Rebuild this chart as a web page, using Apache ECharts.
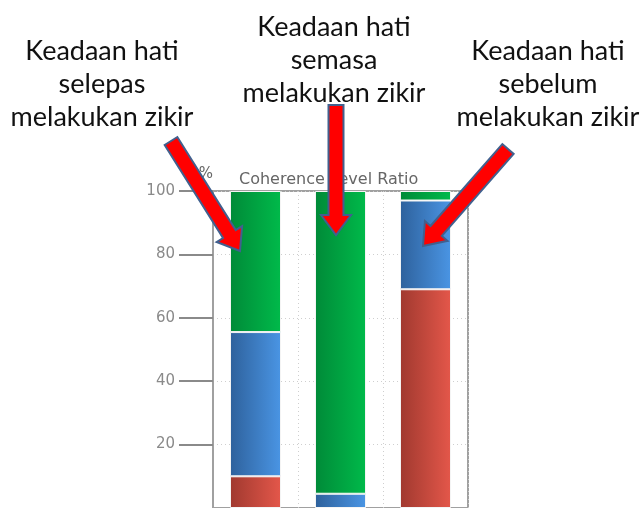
<!DOCTYPE html>
<html>
<head>
<meta charset="utf-8">
<script src="https://cdn.jsdelivr.net/npm/echarts@6/dist/echarts.min.js"></script>
<style>
  html, body { margin: 0; padding: 0; background: #fff; }
  #chart { width: 641px; height: 508px; }
</style>
</head>
<body>
<div id="chart"></div>
<script>
  // stacked coherence ratio, one bar per state
  const categories = ['selepas', 'semasa', 'sebelum'];
  const lowValues = [10, 0, 69];
  const mediumValues = [45.5, 4.5, 28];
  const highValues = [44.5, 95.5, 3];
  const yTicks = [0, 20, 40, 60, 80, 100];

  const notes = [
    { text: 'Keadaan hati\nselepas\nmelakukan zikir', x: 102, y: 84 },
    { text: 'Keadaan hati\nsemasa\nmelakukan zikir', x: 334, y: 60 },
    { text: 'Keadaan hati\nsebelum\nmelakukan zikir', x: 548, y: 84 }
  ];
  const arrows = [
    { from: [171, 141], to: [240, 251] },
    { from: [336, 105], to: [336, 235] },
    { from: [508, 149], to: [423, 246] }
  ];

  function grad(left, right) {
    return new echarts.graphic.LinearGradient(0, 0, 1, 0, [
      { offset: 0, color: left },
      { offset: 1, color: right }
    ]);
  }

  function arrowPoints(a) {
    const dx = a.to[0] - a.from[0];
    const dy = a.to[1] - a.from[1];
    const len = Math.sqrt(dx * dx + dy * dy);
    const ux = dx / len, uy = dy / len;
    const nx = -uy, ny = ux;
    const shaft = 7.5, head = 15, headLen = 20;
    const bx = a.to[0] - ux * headLen, by = a.to[1] - uy * headLen;
    return [
      [a.from[0] + nx * shaft, a.from[1] + ny * shaft],
      [bx + nx * shaft, by + ny * shaft],
      [bx + nx * head, by + ny * head],
      [a.to[0], a.to[1]],
      [bx - nx * head, by - ny * head],
      [bx - nx * shaft, by - ny * shaft],
      [a.from[0] - nx * shaft, a.from[1] - ny * shaft]
    ];
  }

  const chart = echarts.init(document.getElementById('chart'));

  const barStyle = (l, r) => ({
    color: grad(l, r),
    borderColor: '#f4f4f4',
    borderWidth: 1
  });

  const graphics = [];
  notes.forEach(n => {
    graphics.push({
      type: 'text',
      x: n.x,
      y: n.y,
      z: 100,
      style: {
        text: n.text,
        fill: '#111',
        font: '27px Lato',
        lineHeight: 33,
        align: 'center',
        verticalAlign: 'middle'
      }
    });
  });
  arrows.forEach(a => {
    graphics.push({
      type: 'polygon',
      z: 100,
      shape: { points: arrowPoints(a) },
      style: { fill: '#ff0000', stroke: '#41608e', lineWidth: 2 }
    });
  });

  chart.setOption({
    animation: false,
    title: {
      text: 'Coherence Level Ratio',
      left: 234,
      top: 167,
      textStyle: {
        fontFamily: 'DejaVu Sans',
        fontSize: 16,
        fontWeight: 'normal',
        color: '#666'
      }
    },
    grid: {
      left: 213,
      right: 173,
      top: 191,
      bottom: 0,
      outerBoundsMode: 'none',
      containLabel: false,
      show: true,
      borderColor: '#a0a0a0',
      borderWidth: 2
    },
    xAxis: {
      type: 'category',
      data: categories,
      axisLabel: { show: false },
      axisTick: { show: false },
      axisLine: { show: false },
      splitLine: {
        show: true,
        lineStyle: { color: '#cfcfcf', type: [1, 3], width: 1 }
      }
    },
    yAxis: {
      type: 'value',
      min: yTicks[0],
      max: yTicks[yTicks.length - 1],
      interval: 20,
      name: '%',
      nameGap: 9,
      nameTextStyle: {
        fontFamily: 'DejaVu Sans',
        fontSize: 15,
        color: '#666',
        align: 'right',
        padding: [0, 0, 0, 0]
      },
      axisLine: { show: true, lineStyle: { color: '#a0a0a0', width: 2 } },
      axisTick: { show: true, inside: false, length: 34, lineStyle: { color: '#8a8a8a', width: 2 } },
      axisLabel: {
        margin: 38,
        showMinLabel: false,
        fontFamily: 'DejaVu Sans',
        fontSize: 15,
        color: '#8a8a8a'
      },
      splitLine: {
        show: true,
        lineStyle: { color: '#cfcfcf', type: [1, 3], width: 1 }
      }
    },
    series: [
      { type: 'bar', stack: 'r', data: lowValues, barWidth: '60%', itemStyle: barStyle('#a0392f', '#e4574a') },
      { type: 'bar', stack: 'r', data: mediumValues, barWidth: '60%', itemStyle: barStyle('#2e619c', '#4a95e4') },
      { type: 'bar', stack: 'r', data: highValues, barWidth: '60%', itemStyle: barStyle('#008a38', '#00ba4a') }
    ],
    graphic: graphics
  });
</script>
</body>
</html>
